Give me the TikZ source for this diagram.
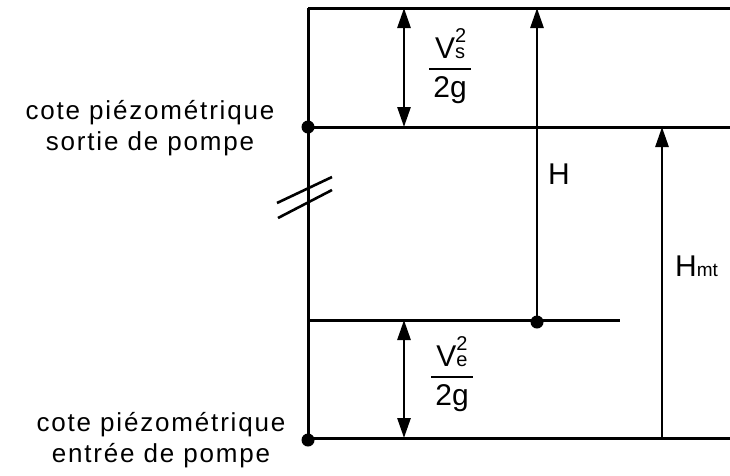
\documentclass[tikz,border=0pt]{standalone}
\usepackage{fontspec}
\setmainfont{Liberation Sans}
\usepackage{tikz}
\usetikzlibrary{arrows.meta}
\newcommand{\sidefont}{\fontsize{26}{31}\selectfont\addfontfeature{LetterSpace=7}}
\newcommand{\lblfont}{\fontsize{30}{34}\selectfont}
\newcommand{\smallfnt}{\fontsize{20}{20}\selectfont}
\newcommand{\vsq}[1]{V\rlap{\raisebox{16pt}{\smallfnt 2}}{\smallfnt #1}}
\newcommand{\frc}[2]{\setlength{\arrayrulewidth}{2.8pt}%
  \begin{tabular}{@{\hspace{4pt}}c@{\hspace{4pt}}}#1\\[-1pt]\hline\rule{0pt}{27pt}#2\end{tabular}}

\begin{document}
\begin{tikzpicture}[
  x=1pt,y=-1pt,
  ln/.style={line width=3pt},
  arr/.style={line width=2.8pt,-{Triangle[length=20pt,width=13pt]}},
  darr/.style={line width=2.8pt,{Triangle[length=20pt,width=13pt]}-{Triangle[length=20pt,width=13pt]}},
  dot/.style={circle,fill,inner sep=0pt,minimum size=13pt},
  side/.style={align=center,font=\sidefont,inner sep=0pt},
  lbl/.style={font=\lblfont,inner sep=0pt}
]
\useasboundingbox (0,0) rectangle (730,475);
% levels
\coordinate (tl) at (308,8); \coordinate (tr) at (730,8);
\node[dot] (ds) at (308,127) {}; \coordinate (sr) at (730,127);
\coordinate (el) at (308,320); \coordinate (er) at (620,320);
\node[dot] (de) at (537,322) {};
\node[dot] (db) at (308,440) {};
\coordinate (bl) at (308,438); \coordinate (br) at (730,438);
\draw[ln] (tl) -- (tr);
\draw[ln] (ds.center) -- (sr);
\draw[ln] (el) -- (er);
\draw[ln] (bl) -- (br);
\draw[ln] (tl) -- (db.center);
% break marks
\coordinate (k1a) at (277,203); \coordinate (k1b) at (332,177);
\coordinate (k2a) at (278,218); \coordinate (k2b) at (332,190);
\draw[line width=2.6pt] (k1a) -- (k1b);
\draw[line width=2.6pt] (k2a) -- (k2b);
% heights
\coordinate (vst) at (404,8); \coordinate (vsb) at (404,127);
\coordinate (vet) at (404,320); \coordinate (veb) at (404,438);
\coordinate (ht) at (537,8);
\coordinate (hmb) at (662,438); \coordinate (hmt) at (662,127);
\draw[darr] (vst) -- (vsb);
\draw[darr] (vet) -- (veb);
\draw[arr] (de.center) -- (ht);
\draw[arr] (hmb) -- (hmt);
% labels
\node[lbl] (vs) at (450,68) {\frc{\vsq{s}}{2g}};
\node[lbl] (ve) at (452,376) {\frc{\vsq{e}}{2g}};
\node[lbl,anchor=west] (h) at (548,174) {H};
\node[lbl,anchor=west] (hm) at (675,266) {H{\fontsize{19}{20}\selectfont mt}};
\node[side] (sortie) at (150,128) {cote piézométrique\\sortie de pompe};
\node[side] (entree) at (161,440) {cote piézométrique\\entrée de pompe};
\end{tikzpicture}
\end{document}
